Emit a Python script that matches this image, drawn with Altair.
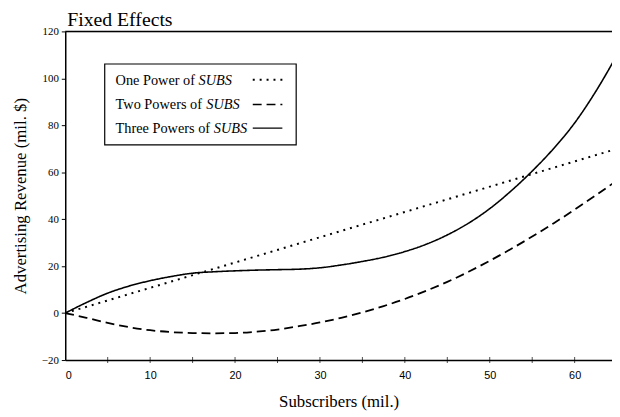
import altair as alt
import pandas as pd

# ---- data ----
subs = [0, 2.5, 5, 7.5, 10, 12.5, 15, 17.5, 20, 22.5, 25, 27.5, 30, 32.5,
        35, 37.5, 40, 42.5, 45, 47.5, 50, 52.5, 55, 57.5, 60, 62.5, 65]
three_powers = [0, 4.5, 8.5, 11.5, 13.8, 15.6, 17.0, 17.6, 18.0, 18.3, 18.5, 18.7,
                19.3, 20.5, 22.0, 23.8, 26.2, 29.3, 33.3, 38.3, 44.5, 52.0, 60.5,
                70.0, 81.0, 94.5, 110.0]
two_powers = [0, -2.0, -4.2, -6.0, -7.3, -8.1, -8.5, -8.6, -8.5, -7.9, -7.0, -5.6,
              -4.0, -2.0, 0.3, 3.0, 6.0, 9.5, 13.3, 17.6, 22.3, 27.3, 32.6,
              38.2, 44.1, 50.2, 56.5]
one_power_x = [0, 65]
one_power = [0, 70]

series_names = ["One Power of SUBS", "Two Powers of SUBS", "Three Powers of SUBS"]
x_label_values = [0, 10, 20, 30, 40, 50, 60]
x_minor_ticks = [5, 10, 15, 20, 25, 30, 35, 40, 45, 50, 55, 60]
y_values = [-20, 0, 20, 40, 60, 80, 100, 120]

rows = []
for xv, yv in zip(one_power_x, one_power):
    rows.append({"subs": xv, "rev": yv, "series": series_names[0]})
for xv, yv in zip(subs, two_powers):
    rows.append({"subs": xv, "rev": yv, "series": series_names[1]})
for xv, yv in zip(subs, three_powers):
    rows.append({"subs": xv, "rev": yv, "series": series_names[2]})
df = pd.DataFrame(rows)

W, H = 554, 333
SERIF = "Liberation Serif"
dashes = [[2, 5], [9, 5], [1, 0]]
widths = [2, 1.6, 1.5]

xscale = alt.Scale(domain=[0, 64.4], nice=False, zero=False)
yscale = alt.Scale(domain=[-20, 120], nice=False)

lines = alt.Chart(df).mark_line(interpolate="monotone", clip=True, color="black").encode(
    x=alt.X("subs:Q", scale=xscale,
            axis=alt.Axis(values=x_label_values, ticks=False, grid=False,
                          domainColor="black", domainWidth=1.5,
                          labelFont="Liberation Sans", labelFontSize=11,
                          labelColor="black", labelPadding=10,
                          title="Subscribers (mil.)", titleFont=SERIF,
                          titleFontSize=17, titleFontWeight="normal",
                          titleColor="black", titlePadding=13)),
    y=alt.Y("rev:Q", scale=yscale,
            axis=alt.Axis(values=y_values, grid=False, tickSize=4,
                          tickColor="black", domainColor="black", domainWidth=1.5,
                          labelFont=SERIF, labelFontSize=11, labelColor="black",
                          labelPadding=3,
                          title="Advertising Revenue (mil. $)", titleFont=SERIF,
                          titleFontSize=17, titleFontWeight="normal",
                          titleColor="black", titlePadding=12)),
    strokeDash=alt.StrokeDash("series:N", scale=alt.Scale(domain=series_names, range=dashes),
                              legend=None),
    size=alt.Size("series:N", scale=alt.Scale(domain=series_names, range=widths),
                  legend=None),
    detail="series:N",
)

top_border = alt.Chart(pd.DataFrame({"v": [0]})).mark_rule(color="black", strokeWidth=1.5).encode(
    y=alt.datum(120)
)

ticks = alt.Chart(pd.DataFrame({"t": x_minor_ticks})).mark_tick(
    color="black", size=6, thickness=1, orient="vertical"
).encode(x="t:Q", y=alt.datum(-20))

one = pd.DataFrame({"v": [0]})
legend_layers = [
    alt.Chart(one).mark_rect(fill="white", stroke="black", strokeWidth=1.2).encode(
        x=alt.value(40), x2=alt.value(234), y=alt.value(33), y2=alt.value(115))
]
row_y = [54, 79, 103]
italic_x = [135, 143, 150.5]
for i, name in enumerate(series_names):
    prefix, word = name.rsplit(" ", 1)
    legend_layers.append(
        alt.Chart(one).mark_text(align="left", baseline="alphabetic", font=SERIF,
                                 fontSize=14.5, color="black").encode(
            x=alt.value(51), y=alt.value(row_y[i]), text=alt.value(prefix)))
    legend_layers.append(
        alt.Chart(one).mark_text(align="left", baseline="alphabetic", font=SERIF,
                                 fontSize=14.5, fontStyle="italic", color="black").encode(
            x=alt.value(italic_x[i]), y=alt.value(row_y[i]), text=alt.value(word)))
    legend_layers.append(
        alt.Chart(one).mark_rule(color="black", strokeWidth=widths[i],
                                 strokeDash=dashes[i]).encode(
            x=alt.value(190), x2=alt.value(220), y=alt.value(row_y[i] - 5)))

chart = alt.layer(lines, top_border, ticks, *legend_layers).properties(
    width=W, height=H,
    title=alt.Title("Fixed Effects", anchor="start", frame="group", font=SERIF,
                    fontSize=20, fontWeight="normal", color="black", dx=2, dy=9,
                    offset=4),
    autosize=alt.AutoSizeParams(type="none"),
    padding={"left": 58, "top": 21, "right": 0, "bottom": 55},
).configure_view(stroke=None).configure(background="white")

chart.save("out.html", embed_options={"renderer": "svg", "actions": False})
